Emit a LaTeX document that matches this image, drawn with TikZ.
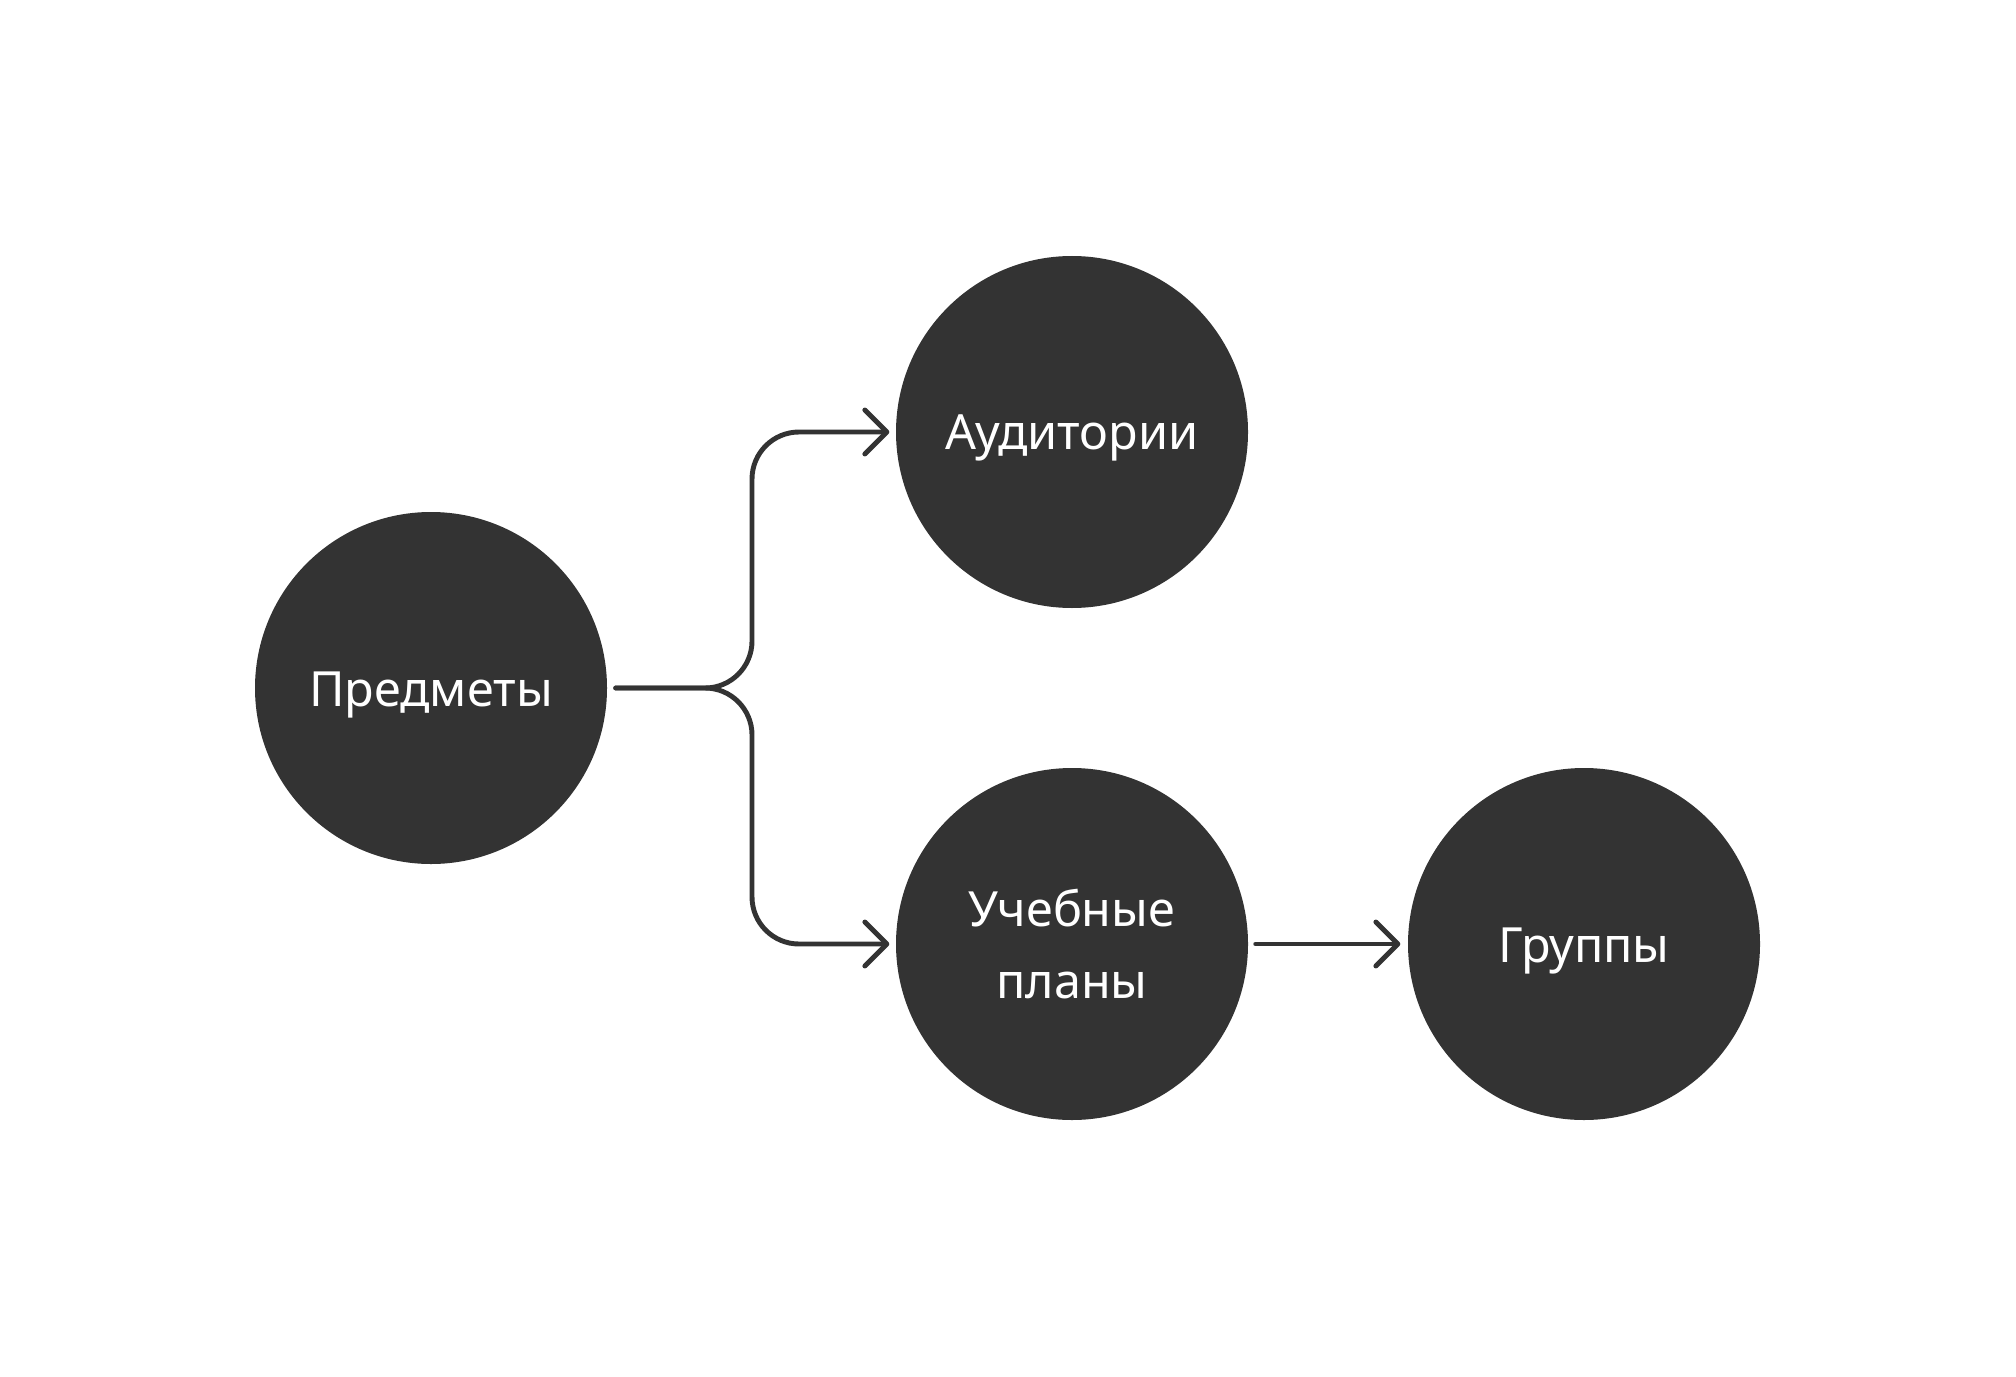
\documentclass[tikz,border=0pt]{standalone}
\usepackage{fontspec}
\setmainfont{Noto Sans}
\usetikzlibrary{arrows.meta,positioning}
\definecolor{fonce}{HTML}{333333}
\begin{document}
\begin{tikzpicture}[
    etape/.style={circle,fill=fonce,text=white,minimum size=3.52cm,inner sep=0pt,
        align=center,font=\fontsize{13.8}{20.5}\selectfont},
    mot/.style={etape,text height=0.36cm,text depth=0pt},
    lien/.style={draw=fonce,line width=1.4pt,line cap=round,rounded corners=0.47cm,
        -{Straight Barb[length=2.2mm,width=4.4mm,round]}}
    ]
    \useasboundingbox (0,0) rectangle (20.16,13.76);
    \node[mot] (pred) at (4.31,6.88) {Предметы};
    \node[mot] (aud) at (10.72,9.44) {Аудитории};
    \node[etape] (plan) at (10.72,4.32) {Учебные\\планы};
    \node[mot] (grp) at (15.84,4.32) {Группы};
    \coordinate (split) at (7.52,6.88);
    % branches depuis Предметы
    \draw[lien] ([xshift=0.08cm]pred.east) -- (split) |- ([xshift=-0.06cm]aud.west);
    \draw[lien] ([xshift=0.08cm]pred.east) -- (split) |- ([xshift=-0.06cm]plan.west);
    \draw[lien,shorten <=0.07cm,shorten >=0.07cm] (plan) -- (grp);
\end{tikzpicture}
\end{document}
